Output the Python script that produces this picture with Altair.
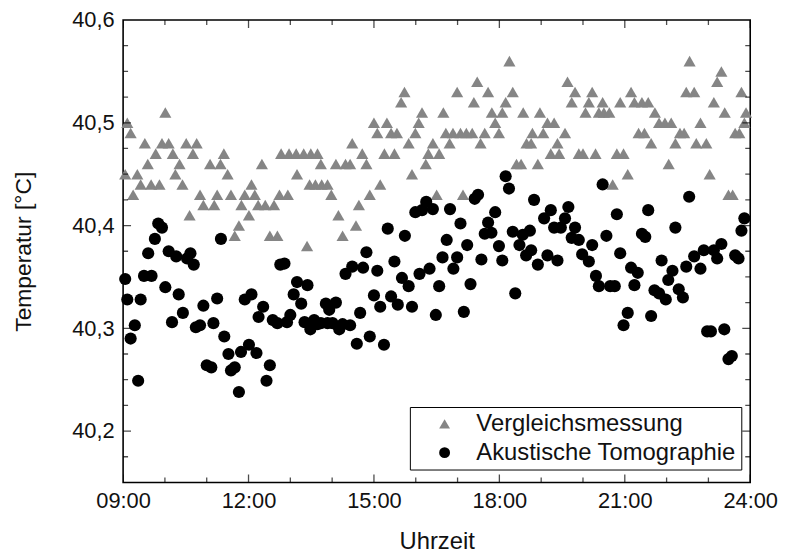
import altair as alt
import pandas as pd

# ---- data ----
series_names = ["Vergleichsmessung", "Akustische Tomographie"]

ref_hours = [9.05, 9.10, 9.18, 9.24, 9.34, 9.42, 9.52, 9.59, 9.67, 9.78, 9.87, 9.93,
             10.01, 10.09, 10.19, 10.25, 10.35, 10.42, 10.51, 10.59, 10.67, 10.76, 10.84, 10.92,
             11.08, 11.18, 11.25, 11.33, 11.41, 11.50, 11.58, 11.67, 11.77, 11.83, 11.91,
             12.01, 12.07, 12.15, 12.23, 12.32, 12.40, 12.51, 12.61, 12.69, 12.74, 12.78, 12.94, 12.97,
             13.14, 13.16, 13.32, 13.40, 13.46, 13.49, 13.60, 13.65, 13.73, 13.75, 13.89, 13.98,
             14.09, 14.15, 14.25, 14.32, 14.43, 14.48, 14.57, 14.64, 14.72, 14.82, 14.90,
             15.00, 15.08, 15.15, 15.25, 15.31, 15.41, 15.49, 15.55, 15.65, 15.73, 15.83, 15.91, 15.99,
             16.07, 16.15, 16.24, 16.30, 16.41, 16.50, 16.56, 16.66, 16.72, 16.81, 16.89, 16.99,
             17.07, 17.13, 17.21, 17.35, 17.39, 17.47, 17.55, 17.65, 17.73, 17.82, 17.90, 17.99,
             18.07, 18.15, 18.24, 18.32, 18.41, 18.52, 18.57, 18.65, 18.76, 18.79, 18.92, 18.97,
             19.05, 19.15, 19.23, 19.31, 19.39, 19.43, 19.57, 19.63, 19.73, 19.81, 19.90,
             20.00, 20.06, 20.14, 20.22, 20.30, 20.38, 20.47, 20.50, 20.63, 20.71, 20.81, 20.89, 20.97,
             21.07, 21.15, 21.23, 21.33, 21.41, 21.47, 21.56, 21.63, 21.72, 21.82, 21.96,
             22.05, 22.11, 22.21, 22.32, 22.42, 22.47, 22.55, 22.66, 22.71, 22.81, 22.95,
             23.03, 23.13, 23.21, 23.31, 23.39, 23.48, 23.58, 23.64, 23.74, 23.79, 23.86, 23.90]
ref_temps = [40.45, 40.50, 40.49, 40.43, 40.45, 40.44, 40.48, 40.46, 40.44, 40.47, 40.44, 40.48,
             40.51, 40.48, 40.47, 40.45, 40.46, 40.44, 40.48, 40.41, 40.47, 40.48, 40.43, 40.42,
             40.46, 40.42, 40.43, 40.46, 40.47, 40.45, 40.43, 40.39, 40.40, 40.42, 40.43,
             40.41, 40.44, 40.43, 40.42, 40.46, 40.42, 40.39, 40.42, 40.39, 40.43, 40.47, 40.43, 40.47,
             40.47, 40.45, 40.47, 40.38, 40.44, 40.47, 40.44, 40.47, 40.46, 40.44, 40.44, 40.43,
             40.46, 40.41, 40.39, 40.46, 40.46, 40.48, 40.40, 40.42, 40.47, 40.46, 40.43,
             40.50, 40.49, 40.44, 40.47, 40.50, 40.49, 40.47, 40.49, 40.52, 40.53, 40.48, 40.45, 40.49,
             40.50, 40.51, 40.46, 40.47, 40.48, 40.43, 40.47, 40.51, 40.49, 40.48, 40.49, 40.53,
             40.49, 40.43, 40.49, 40.49, 40.52, 40.54, 40.48, 40.49, 40.53, 40.51, 40.50, 40.49,
             40.51, 40.52, 40.56, 40.53, 40.46, 40.46, 40.51, 40.48, 40.48, 40.49, 40.46, 40.51,
             40.49, 40.50, 40.47, 40.50, 40.48, 40.47, 40.49, 40.54, 40.52, 40.53, 40.47,
             40.47, 40.51, 40.52, 40.53, 40.47, 40.51, 40.52, 40.51, 40.51, 40.44, 40.47, 40.52, 40.47,
             40.45, 40.53, 40.52, 40.49, 40.52, 40.49, 40.52, 40.48, 40.51, 40.50, 40.50,
             40.46, 40.50, 40.48, 40.49, 40.49, 40.53, 40.56, 40.53, 40.48, 40.50, 40.48,
             40.45, 40.52, 40.54, 40.55, 40.51, 40.43, 40.43, 40.49, 40.49, 40.53, 40.50, 40.51]

ac_hours = [9.05, 9.10, 9.18, 9.28, 9.36, 9.42, 9.50, 9.60, 9.68, 9.76, 9.84, 9.93,
            10.01, 10.09, 10.17, 10.27, 10.33, 10.43, 10.53, 10.61, 10.69, 10.74, 10.84, 10.92,
            11.00, 11.11, 11.16, 11.25, 11.34, 11.42, 11.52, 11.58, 11.67, 11.77, 11.82, 11.91,
            12.01, 12.07, 12.19, 12.24, 12.35, 12.43, 12.51, 12.58, 12.69, 12.76, 12.86, 12.92,
            13.00, 13.08, 13.16, 13.26, 13.34, 13.41, 13.48, 13.57, 13.65, 13.73, 13.85, 13.89, 13.93,
            14.01, 14.09, 14.17, 14.25, 14.32, 14.43, 14.48, 14.59, 14.67, 14.74, 14.82, 14.90,
            15.00, 15.08, 15.15, 15.24, 15.33, 15.41, 15.49, 15.57, 15.67, 15.74, 15.83, 15.91, 15.99,
            16.09, 16.15, 16.25, 16.33, 16.41, 16.48, 16.56, 16.64, 16.74, 16.82, 16.90, 16.99,
            17.07, 17.15, 17.23, 17.31, 17.41, 17.49, 17.57, 17.65, 17.73, 17.81, 17.90, 17.99,
            18.07, 18.15, 18.23, 18.32, 18.38, 18.48, 18.56, 18.64, 18.73, 18.76, 18.83, 18.92,
            19.07, 19.15, 19.23, 19.31, 19.39, 19.47, 19.57, 19.65, 19.73, 19.81, 19.90, 19.98,
            20.14, 20.22, 20.31, 20.38, 20.47, 20.56, 20.65, 20.76, 20.81, 20.89, 20.97,
            21.07, 21.15, 21.23, 21.31, 21.41, 21.49, 21.56, 21.63, 21.71, 21.82, 21.88, 21.98,
            22.04, 22.14, 22.21, 22.29, 22.39, 22.47, 22.54, 22.66, 22.81, 22.89, 22.97,
            23.06, 23.13, 23.21, 23.31, 23.38, 23.48, 23.56, 23.64, 23.72, 23.79, 23.86]
ac_temps = [40.348, 40.328, 40.290, 40.303, 40.249, 40.328, 40.351, 40.373, 40.351, 40.387, 40.402, 40.398,
            40.340, 40.375, 40.306, 40.370, 40.333, 40.315, 40.368, 40.373, 40.362, 40.301, 40.303, 40.322,
            40.264, 40.262, 40.305, 40.329, 40.387, 40.292, 40.275, 40.259, 40.262, 40.238, 40.277, 40.328,
            40.284, 40.333, 40.276, 40.311, 40.321, 40.249, 40.264, 40.308, 40.305, 40.362, 40.363, 40.306,
            40.313, 40.333, 40.345, 40.324, 40.306, 40.342, 40.299, 40.308, 40.304, 40.305, 40.324, 40.305, 40.318,
            40.305, 40.325, 40.299, 40.304, 40.353, 40.303, 40.360, 40.285, 40.315, 40.359, 40.374, 40.292,
            40.332, 40.356, 40.321, 40.284, 40.397, 40.331, 40.365, 40.323, 40.349, 40.390, 40.341, 40.321, 40.413,
            40.353, 40.415, 40.423, 40.358, 40.416, 40.313, 40.341, 40.369, 40.386, 40.416, 40.358, 40.369,
            40.402, 40.316, 40.381, 40.343, 40.426, 40.430, 40.367, 40.392, 40.403, 40.393, 40.413, 40.380,
            40.366, 40.448, 40.436, 40.394, 40.334, 40.381, 40.391, 40.371, 40.395, 40.376, 40.425, 40.362,
            40.407, 40.371, 40.415, 40.398, 40.366, 40.398, 40.407, 40.418, 40.388, 40.398, 40.386, 40.372,
            40.365, 40.381, 40.351, 40.341, 40.440, 40.390, 40.341, 40.341, 40.411, 40.373, 40.303,
            40.315, 40.359, 40.342, 40.354, 40.392, 40.389, 40.415, 40.312, 40.337, 40.334, 40.366, 40.328,
            40.347, 40.356, 40.398, 40.338, 40.330, 40.360, 40.428, 40.370, 40.358, 40.376, 40.297,
            40.297, 40.376, 40.368, 40.382, 40.299, 40.270, 40.273, 40.371, 40.368, 40.395, 40.407]

x_domain = [9, 24]
y_domain = [40.15, 40.6]
x_label_hours = [9, 12, 15, 18, 21, 24]
y_label_values = [40.2, 40.3, 40.4, 40.5, 40.6]
x_tick_hours = [9, 10, 11, 12, 13, 14, 15, 16, 17, 18, 19, 20, 21, 22, 23, 24]
x_major_hours = [9, 12, 15, 18, 21, 24]
y_tick_values = [40.175, 40.2, 40.225, 40.25, 40.275, 40.3, 40.325, 40.35, 40.375,
                 40.4, 40.425, 40.45, 40.475, 40.5, 40.525, 40.55, 40.575]
y_major_values = [40.2, 40.3, 40.4, 40.5]

FONT = "Liberation Sans"

# ---- tables ----
pts = pd.concat([
    pd.DataFrame({"h": ref_hours, "t": ref_temps, "s": series_names[0]}),
    pd.DataFrame({"h": ac_hours, "t": ac_temps, "s": series_names[1]}),
], ignore_index=True)

xt_rows = []
for h in x_tick_hours:
    for edge in y_domain:
        xt_rows.append({"h": h, "t": edge, "len": 16 if h in x_major_hours else 10})
xticks = pd.DataFrame(xt_rows)

yt_rows = []
for v in y_tick_values:
    for edge in x_domain:
        yt_rows.append({"t": v, "h": edge, "len": 16 if v in y_major_values else 10})
yticks = pd.DataFrame(yt_rows)

xs = alt.Scale(domain=x_domain, nice=False, zero=False)
ys = alt.Scale(domain=y_domain, nice=False, zero=False)

x_axis = alt.Axis(values=x_label_hours,
                  labelExpr="(datum.value < 10 ? '0' : '') + datum.value + ':00'",
                  ticks=False, tickSize=0, domain=False, grid=False,
                  labelFlush=False, labelOverlap=False,
                  labelPadding=8, titlePadding=19,
                  labelFontSize=22, titleFontSize=24)
y_axis = alt.Axis(values=y_label_values,
                  labelExpr="replace(format(datum.value, '.1f'), '.', ',')",
                  ticks=False, tickSize=0, domain=False, grid=False,
                  labelFlush=False, labelOverlap=False,
                  labelPadding=9, titlePadding=37,
                  labelFontSize=22, titleFontSize=23)

points = alt.Chart(pts).mark_point(filled=True, opacity=1, size=150).encode(
    x=alt.X("h:Q", scale=xs, title="Uhrzeit", axis=x_axis),
    y=alt.Y("t:Q", scale=ys, title="Temperatur [°C]", axis=y_axis),
    color=alt.Color("s:N", scale=alt.Scale(domain=series_names, range=["#858585", "#000000"]),
                    legend=alt.Legend(title=None, orient="none", legendX=289, legendY=390,
                                      padding=5, symbolOffset=18, labelOffset=20,
                                      strokeColor="black", fillColor="white",
                                      labelFontSize=24, labelFont=FONT, labelColor="#111",
                                      labelLimit=500,
                                      rowPadding=5, symbolSize=120, symbolStrokeWidth=0)),
    shape=alt.Shape("s:N", scale=alt.Scale(domain=series_names, range=["triangle-up", "circle"]),
                    legend=alt.Legend(title=None, orient="none", legendX=289, legendY=390,
                                      labelLimit=500)),
)

xtick_layer = alt.Chart(xticks).mark_tick(orient="vertical", clip=True, color="black", thickness=1.3).encode(
    x=alt.X("h:Q", scale=xs, title="Uhrzeit", axis=x_axis),
    y=alt.Y("t:Q", scale=ys, title="Temperatur [°C]", axis=y_axis),
    size=alt.Size("len:Q", scale=None, legend=None),
)

ytick_layer = alt.Chart(yticks).mark_tick(orient="horizontal", clip=True, color="black", thickness=1.3).encode(
    x=alt.X("h:Q", scale=xs, title="Uhrzeit", axis=x_axis),
    y=alt.Y("t:Q", scale=ys, title="Temperatur [°C]", axis=y_axis),
    size=alt.Size("len:Q", scale=None, legend=None),
)

chart = alt.layer(points, xtick_layer, ytick_layer).properties(
    width=632, height=466,
    autosize=alt.AutoSizeParams(type="none"),
    padding={"left": 116, "top": 10, "right": 28, "bottom": 70},
).configure_view(
    stroke="black", strokeWidth=1.6
).configure_axis(
    labelFont=FONT, titleFont=FONT, labelColor="#111", titleColor="#111", titleFontWeight="normal"
)

chart.save("out.html", embed_options={"renderer": "svg", "actions": False})
